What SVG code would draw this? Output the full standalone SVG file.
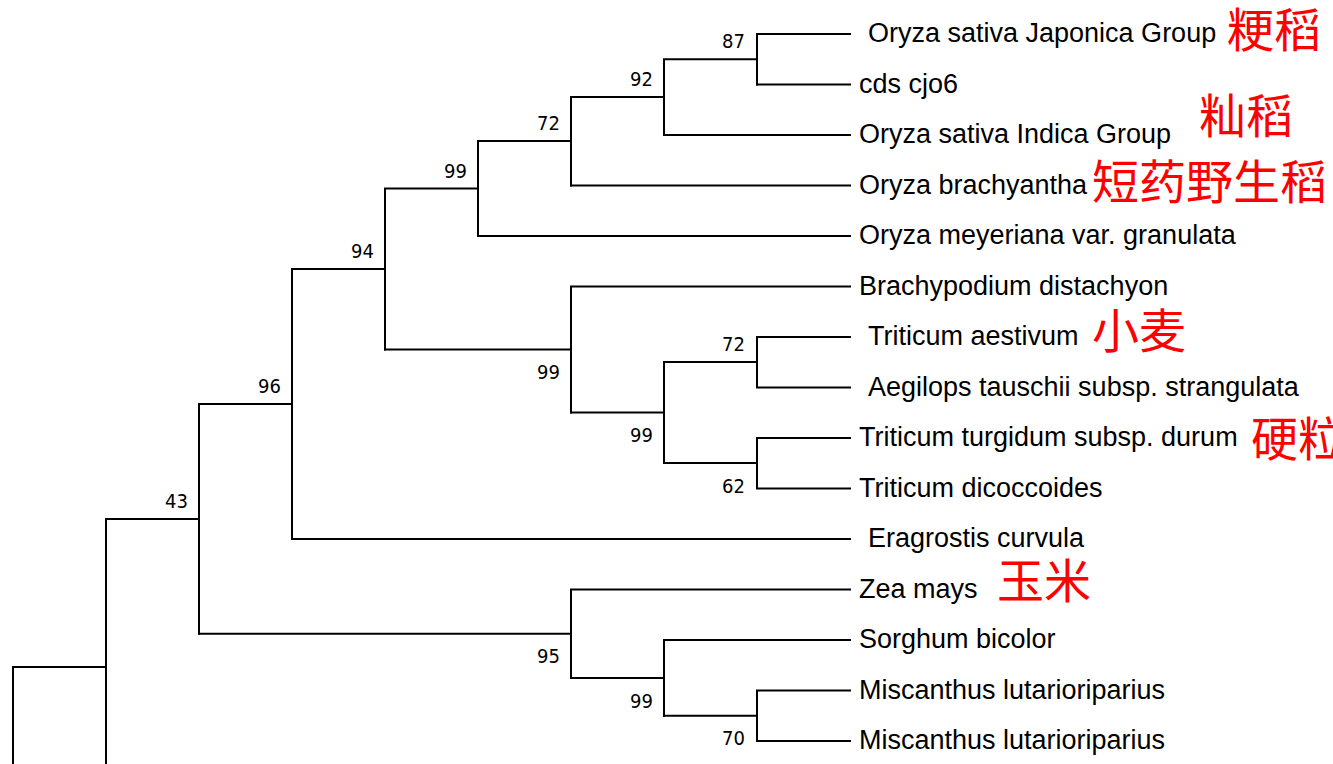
<svg xmlns="http://www.w3.org/2000/svg" width="1333" height="764" viewBox="0 0 1333 764">
<style>
.br{fill:none;stroke:#000;stroke-width:2;stroke-linecap:square}
.bs{font-family:"DejaVu Sans Condensed","DejaVu Sans",Verdana,sans-serif;font-stretch:condensed;font-size:20px;fill:#000;text-anchor:end}
.lf{font-family:"Liberation Sans",Arial,sans-serif;font-size:27px;fill:#000}
.cn{font-family:"Noto Sans CJK SC","Noto Sans CJK TC",sans-serif;font-size:47px;fill:#ff0000}
</style>
<rect width="1333" height="764" fill="#fff"/>
<g id="connectors" class="br">
<path d="M13,667V900M13,667H106"/>
<path d="M106,519V815M106,519H199"/>
<path d="M199,404V633.75M199,404H292"/>
<path d="M292,269V539M292,269H385"/>
<path d="M385,188.5V349.5M385,188.5H478"/>
<path d="M478,141V236M478,141H571"/>
<path d="M571,97V185.5M571,97H664"/>
<path d="M664,59.25V135M664,59.25H757"/>
<path d="M757,34V84.5"/>
<path d="M757,34H850M757,84.5H850M664,135H850M571,185.5H850M478,236H850"/>
<path d="M385,349.5H571M571,286.5V412.5M571,286.5H850"/>
<path d="M571,412.5H664M664,362V463"/>
<path d="M664,362H757M757,337V387.5M757,337H850M757,387.5H850"/>
<path d="M664,463H757M757,438V488.5M757,438H850M757,488.5H850"/>
<path d="M292,539H850"/>
<path d="M199,633.75H571M571,589.5V678M571,589.5H850"/>
<path d="M571,678H664M664,640V715.75M664,640H850"/>
<path d="M664,715.75H757M757,690.5V741M757,690.5H850M757,741H850"/>
</g>
<g id="bootstrap">
<text class="bs" x="188" y="508">43</text>
<text class="bs" x="281" y="393">96</text>
<text class="bs" x="374" y="258">94</text>
<text class="bs" x="467" y="177.5">99</text>
<text class="bs" x="560" y="130">72</text>
<text class="bs" x="653" y="86">92</text>
<text class="bs" x="745" y="48">87</text>
<text class="bs" x="560" y="379">99</text>
<text class="bs" x="653" y="442">99</text>
<text class="bs" x="745" y="351">72</text>
<text class="bs" x="745" y="493">62</text>
<text class="bs" x="560" y="663">95</text>
<text class="bs" x="653" y="707.5">99</text>
<text class="bs" x="745" y="745">70</text>
</g>
<g id="leaf-japonica"><text class="lf" x="868" y="42">Oryza sativa Japonica Group</text><text class="cn" x="1227" y="47">粳稻</text></g>
<g id="leaf-cds"><text class="lf" x="859" y="92.5">cds cjo6</text></g>
<g id="leaf-indica"><text class="lf" x="859" y="143">Oryza sativa Indica Group</text><text class="cn" x="1199" y="133">籼稻</text></g>
<g id="leaf-brachyantha"><text class="lf" x="859" y="193.5">Oryza brachyantha</text><text class="cn" x="1092" y="199">短药野生稻</text></g>
<g id="leaf-meyeriana"><text class="lf" x="859" y="244">Oryza meyeriana var. granulata</text></g>
<g id="leaf-brachypodium"><text class="lf" x="859" y="294.5">Brachypodium distachyon</text></g>
<g id="leaf-aestivum"><text class="lf" x="868" y="345">Triticum aestivum</text><text class="cn" x="1092" y="348">小麦</text></g>
<g id="leaf-aegilops"><text class="lf" x="868" y="395.5">Aegilops tauschii subsp. strangulata</text></g>
<g id="leaf-durum"><text class="lf" x="859" y="446">Triticum turgidum subsp. durum</text><text class="cn" x="1251" y="456">硬粒</text></g>
<g id="leaf-dicoccoides"><text class="lf" x="859" y="496.5">Triticum dicoccoides</text></g>
<g id="leaf-eragrostis"><text class="lf" x="868" y="547">Eragrostis curvula</text></g>
<g id="leaf-zea"><text class="lf" x="859" y="597.5">Zea mays</text><text class="cn" x="997" y="598">玉米</text></g>
<g id="leaf-sorghum"><text class="lf" x="859" y="648">Sorghum bicolor</text></g>
<g id="leaf-miscanthus1"><text class="lf" x="859" y="698.5">Miscanthus lutarioriparius</text></g>
<g id="leaf-miscanthus2"><text class="lf" x="859" y="749">Miscanthus lutarioriparius</text></g>
</svg>
